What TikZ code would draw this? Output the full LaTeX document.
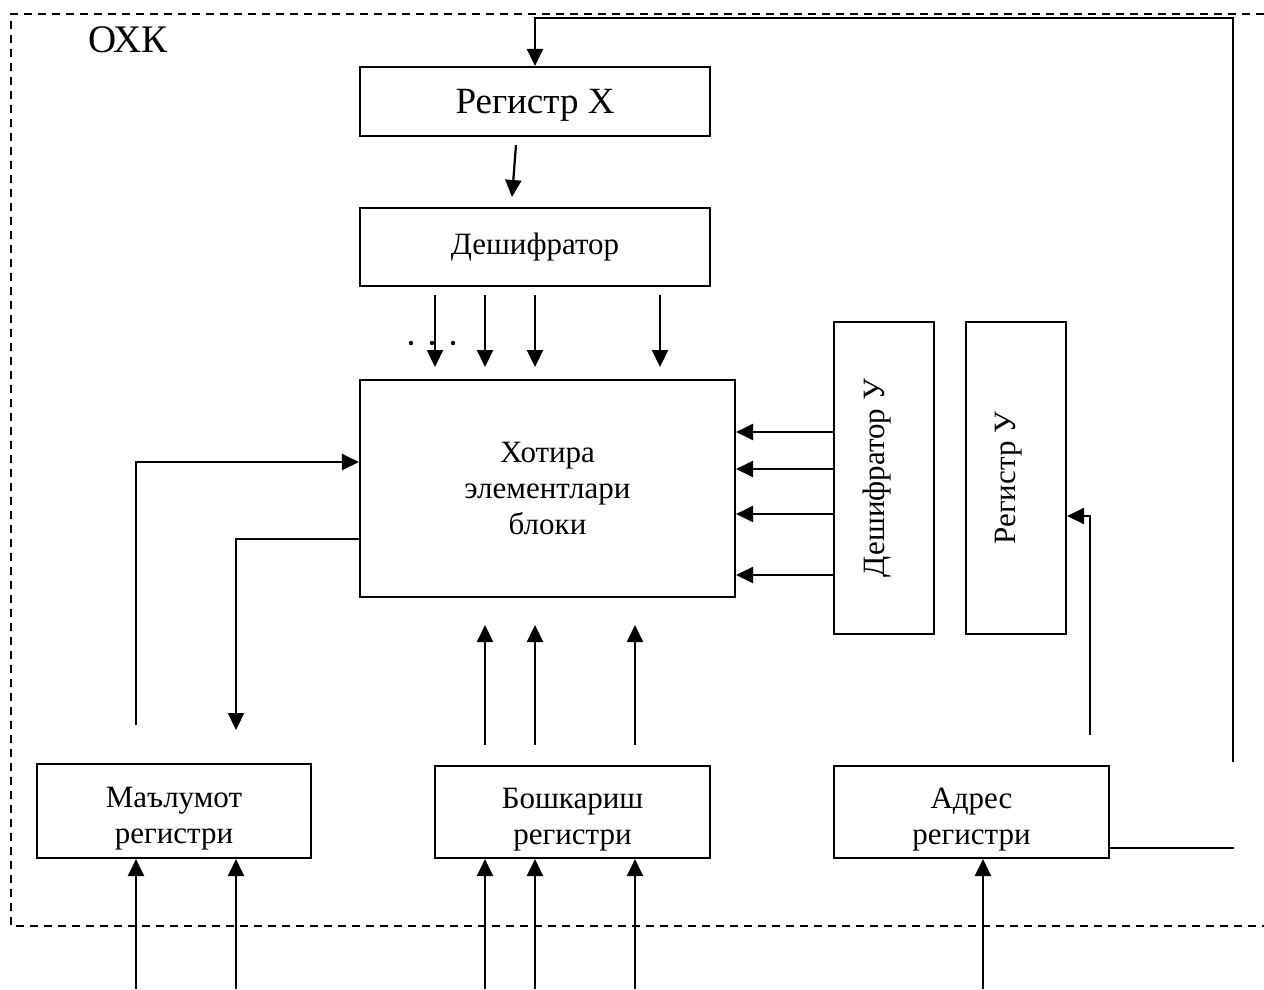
\documentclass[tikz,border=0pt]{standalone}
\usepackage{fontspec}
\setmainfont{Liberation Serif}
\usetikzlibrary{arrows.meta}

\tikzset{
  blk/.style={draw, line width=2.1pt, inner sep=0pt, align=center},
  txtmain/.style={font=\fontsize{31}{36}\selectfont},
  arr/.style={line width=2.2pt, -{Triangle[width=16pt,length=17pt]}},
  wire/.style={line width=2.2pt},
  frame/.style={line width=1.5pt, dash pattern=on 8pt off 6pt},
}
% lower a box's contents by #1 while keeping its centre where it was
\newcommand{\lowerby}[2]{\raisebox{-#1}[\dimexpr\height+#1\relax][\dimexpr\depth+#1\relax]{#2}}
% two centred lines, set a little below the middle of their box
\newcommand{\twoline}[2]{\lowerby{7pt}{\begin{tabular}{@{}c@{}}#1\\#2\end{tabular}}}
% rotated label, nudged to the left inside its box
\newcommand{\uprot}[1]{\rotatebox{90}{#1}\kern14pt}

\begin{document}
\begin{tikzpicture}[x=1pt,y=-1pt]
\useasboundingbox (0,0) rectangle (1264,989);

% dashed boundary of the unit
\draw[frame] (1264,14) -- (11,14) -- (11,926) -- (1264,926);
\node[font=\fontsize{39}{42}\selectfont] (title) at (128,40) {ОХК};

% blocks
\node[blk, minimum width=350pt, minimum height=69pt,
      font=\fontsize{37}{40}\selectfont] (regx) at (535,101.5) {\lowerby{4pt}{Регистр Х}};
\node[blk, txtmain, minimum width=350pt, minimum height=78pt] (dec) at (535,247) {Дешифратор};
\node[blk, txtmain, minimum width=375pt, minimum height=217pt] (mem) at (547.5,488.5)
      {Хотира\\элементлари\\блоки};
\node[blk, txtmain, minimum width=100pt, minimum height=312pt] (decy) at (884,478)
      {\uprot{Дешифратор У}};
\node[blk, txtmain, minimum width=100pt, minimum height=312pt] (regy) at (1016,478)
      {\uprot{Регистр У}};
\node[blk, txtmain, minimum width=274pt, minimum height=94pt] (data) at (174,811)
      {\twoline{Маълумот}{регистри}};
\node[blk, txtmain, minimum width=275pt, minimum height=92pt] (ctrl) at (572.5,812)
      {\twoline{Бошкариш}{регистри}};
\node[blk, txtmain, minimum width=275pt, minimum height=92pt] (addr) at (971.5,812)
      {\twoline{Адрес}{регистри}};

% feedback from the address register back to register X
\coordinate (fb) at (1233,762);
\draw[arr] (fb) |- (535,18) -- (regx.north);
\draw[wire] (addr.east |- 0,848) -- (1234,848);

% register X to decoder
\draw[arr] (516,145) -- (512,197);

% decoder outputs into the memory block
\foreach \xx in {435,485,535,660}
  \draw[arr] (\xx,295) -- (\xx,367);
\foreach \xx in {411,432,453}
  \fill (\xx,343) circle (2.2pt);

% decoder Y outputs into the memory block
\foreach \yy in {432,469,514,575}
  \draw[arr] (decy.west |- 0,\yy) -- (mem.east |- 0,\yy);

% address register to register Y
\draw[arr] (1090,735) |- (regy.east |- 0,516);

% data register exchange with the memory block
\draw[arr] (136,725) |- (mem.west |- 0,462);
\draw[arr] (mem.west |- 0,539) -| (236,730);

% control register into the memory block
\foreach \xx in {485,535,635}
  \draw[arr] (\xx,745) -- (\xx,625);

% external inputs
\foreach \xx in {136,236}
  \draw[arr] (\xx,989) -- (data.south -| \xx,0);
\foreach \xx in {485,535,635}
  \draw[arr] (\xx,989) -- (ctrl.south -| \xx,0);
\draw[arr] (983,989) -- (addr.south -| 983,0);
\end{tikzpicture}
\end{document}
